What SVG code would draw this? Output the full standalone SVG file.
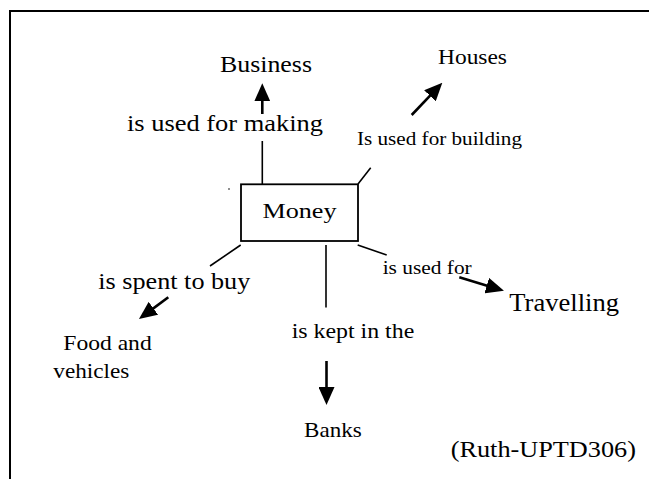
<svg xmlns="http://www.w3.org/2000/svg" width="649" height="479" viewBox="0 0 649 479">
  <style>
    text { font-family: "Liberation Serif", "Times New Roman", serif; fill: #000; }
    .frame { stroke: #000; stroke-width: 2; fill: none; }
    .link { stroke: #000; stroke-width: 1.6; fill: none; }
    .arrow { stroke: #000; stroke-width: 2.6; fill: none; marker-end: url(#head); }
    .box { stroke: #000; stroke-width: 1.8; fill: #fff; }
  </style>
  <defs>
    <marker id="head" markerUnits="userSpaceOnUse" markerWidth="18" markerHeight="16" refX="3" refY="8" orient="auto">
      <path d="M0,0 L18,8 L0,16 z" fill="#000"/>
    </marker>
  </defs>

  <rect width="649" height="479" fill="#fff"/>

  <!-- page frame (top and left edges only) -->
  <g id="frame">
    <line class="frame" x1="9" y1="11" x2="649" y2="11"/>
    <line class="frame" x1="10" y1="10" x2="10" y2="479"/>
  </g>

  <!-- connectors -->
  <g id="connectors">
    <!-- Money -> Business -->
    <line class="link" x1="262.3" y1="184" x2="262.3" y2="141"/>
    <line class="arrow" x1="262.3" y1="114" x2="262.3" y2="98.3"/>
    <!-- Money -> Houses -->
    <line class="link" x1="358" y1="184" x2="370.7" y2="167.7"/>
    <line class="arrow" x1="411.7" y1="115" x2="432" y2="93.6"/>
    <!-- Money -> Food and vehicles -->
    <line class="link" x1="240.7" y1="245" x2="210" y2="266"/>
    <line class="arrow" x1="168.3" y1="297.3" x2="151" y2="310.1"/>
    <!-- Money -> Banks -->
    <line class="link" x1="326" y1="245" x2="326" y2="307.5"/>
    <line class="arrow" x1="326.5" y1="361" x2="326.5" y2="390"/>
    <!-- Money -> Travelling -->
    <line class="link" x1="357.7" y1="245" x2="386.7" y2="255"/>
    <line class="arrow" x1="459.3" y1="277.3" x2="489.6" y2="286.4"/>
  </g>

  <!-- link labels -->
  <g id="labels">
    <text x="127" y="131" font-size="24" textLength="196" lengthAdjust="spacingAndGlyphs">is used for making</text>
    <text x="357" y="145" font-size="19" textLength="165" lengthAdjust="spacingAndGlyphs">Is used for building</text>
    <text x="98.3" y="289" font-size="24" textLength="152" lengthAdjust="spacingAndGlyphs">is spent to buy</text>
    <text x="291.7" y="338" font-size="21.5" textLength="122.6" lengthAdjust="spacingAndGlyphs">is kept in the</text>
    <text x="382.7" y="274.3" font-size="19.5" textLength="89" lengthAdjust="spacingAndGlyphs">is used for</text>
  </g>

  <!-- central concept -->
  <g id="money">
    <rect class="box" x="241" y="184.3" width="117" height="56.7"/>
    <circle cx="229" cy="189" r="0.8" fill="#000"/>
    <text x="262.5" y="217.7" font-size="22" textLength="74" lengthAdjust="spacingAndGlyphs">Money</text>
  </g>

  <g id="business">
    <text x="220" y="72" font-size="24" textLength="92" lengthAdjust="spacingAndGlyphs">Business</text>
  </g>

  <g id="houses">
    <text x="438" y="64" font-size="21" textLength="69" lengthAdjust="spacingAndGlyphs">Houses</text>
  </g>

  <g id="food">
    <text x="63.3" y="350" font-size="22" textLength="88.4" lengthAdjust="spacingAndGlyphs">Food and</text>
    <text x="53.3" y="377.7" font-size="22" textLength="76" lengthAdjust="spacingAndGlyphs">vehicles</text>
  </g>

  <g id="travelling">
    <text x="509.3" y="310.7" font-size="25" textLength="109.7" lengthAdjust="spacingAndGlyphs">Travelling</text>
  </g>

  <g id="banks">
    <text x="304" y="436.7" font-size="22" textLength="57.7" lengthAdjust="spacingAndGlyphs">Banks</text>
  </g>

  <g id="credit">
    <text x="450.7" y="456.5" font-size="24" textLength="185.3" lengthAdjust="spacingAndGlyphs">(Ruth-UPTD306)</text>
  </g>
</svg>
